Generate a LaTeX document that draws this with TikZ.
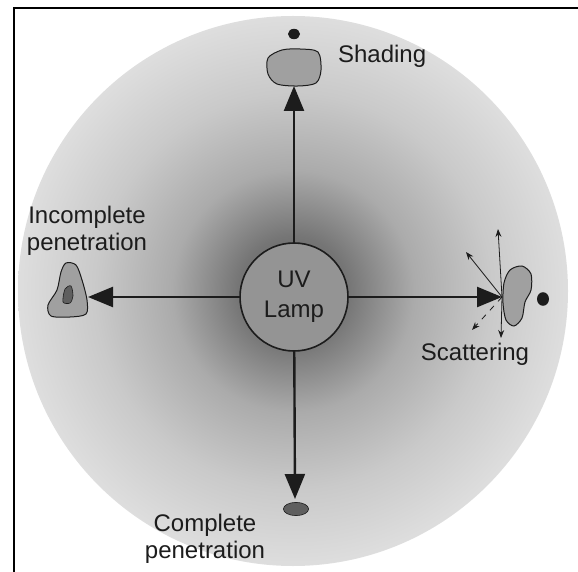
\documentclass[tikz,border=0pt]{standalone}
\usepackage{fontspec}
\setmainfont{Liberation Sans}
\usetikzlibrary{arrows.meta, positioning, shapes.geometric}
\definecolor{inkGray}{RGB}{28,28,28}
\definecolor{blobGray}{RGB}{160,160,160}
\definecolor{coreGray}{RGB}{95,95,95}
\pgfdeclareradialshading{uvglow}{\pgfpoint{0bp}{0bp}}{%
  color(0bp)=(black!64);
  color(5bp)=(black!54);
  color(11bp)=(black!33);
  color(18bp)=(black!21);
  color(25bp)=(black!13);
  color(50bp)=(black!13)}

\begin{document}
\begin{tikzpicture}[
    x=0.5pt, y=-0.5pt,
    lamp/.style={circle, draw=inkGray, line width=0.8pt, fill=black!42, minimum size=54pt,
                 align=center, font=\fontsize{12}{15}\selectfont, text=inkGray},
    note/.style={align=center, font=\fontsize{12}{13.5}\selectfont, text=inkGray},
    blob/.style={draw=inkGray, line width=0.5pt, fill=blobGray},
    ray/.style={-{Triangle[length=12.5pt, width=10pt]}, line width=1.2pt, draw=inkGray},
    scatter/.style={-{Stealth[length=4pt, width=3pt]}, line width=0.4pt, draw=inkGray}
]
\useasboundingbox (0,0) rectangle (578,572);

% glow of the lamp
\shade[shading=uvglow] (293,291) circle [radius=137.5pt];

% frame
\draw[line width=1pt] (14,572) -- (14,8) -- (578,8);

% lamp
\node[lamp] (lamp) at (294,297) {UV\\Lamp};

% shading
\fill[inkGray] (294,34) ellipse [x radius=3pt, y radius=2.6pt];
\draw[blob] plot[smooth cycle] coordinates {(268,58) (282,50) (300,49) (318,52) (321,70) (316,83) (298,86) (277,84) (268,74)};
\coordinate (shadeTip) at (294,86);
\node[note, anchor=west] (shadeText) at (331,56) {Shading};

% incomplete penetration
\draw[blob] plot[smooth cycle] coordinates {(66,263) (76,265) (82,280) (87,300) (86,314) (70,317) (51,316) (48,305) (57,290) (61,272)};
\fill[coreGray, draw=inkGray, line width=0.3pt] plot[smooth cycle] coordinates {(65,289) (71,286) (73,296) (70,303) (63,302)};
\coordinate (partTip) at (88,297);
\node[note] (partText) at (87,231) {Incomplete\\penetration};

% scattering
\draw[blob] plot[smooth cycle] coordinates {(510,270) (522,266) (531,274) (531,290) (525,302) (522,318) (514,326) (506,320) (503,303) (504,283)};
\fill[inkGray] (543,299) ellipse [x radius=3pt, y radius=3.4pt];
\coordinate (hit) at (502,297);
\coordinate (upEnd) at (498,229);
\coordinate (downEnd) at (501,338);
\coordinate (backEnd) at (466,252);
\coordinate (diffEnd) at (472,330);
\draw[scatter] (hit) -- (upEnd);
\draw[scatter] (hit) -- (downEnd);
\draw[scatter] (hit) -- (backEnd);
\draw[scatter, dashed] (hit) -- (diffEnd);
\node[note] (scatText) at (475,354) {Scattering};

% complete penetration
\fill[coreGray, draw=inkGray, line width=0.3pt] (296,509) ellipse [x radius=6.3pt, y radius=3.3pt];
\coordinate (fullTip) at (295,499);
\node[note] (fullText) at (205,539) {Complete\\penetration};

% rays
\draw[ray] (lamp) -- (shadeTip);
\draw[ray] (lamp) -- (partTip);
\draw[ray] (lamp) -- (hit);
\draw[ray] (lamp) -- (fullTip);
\end{tikzpicture}
\end{document}
